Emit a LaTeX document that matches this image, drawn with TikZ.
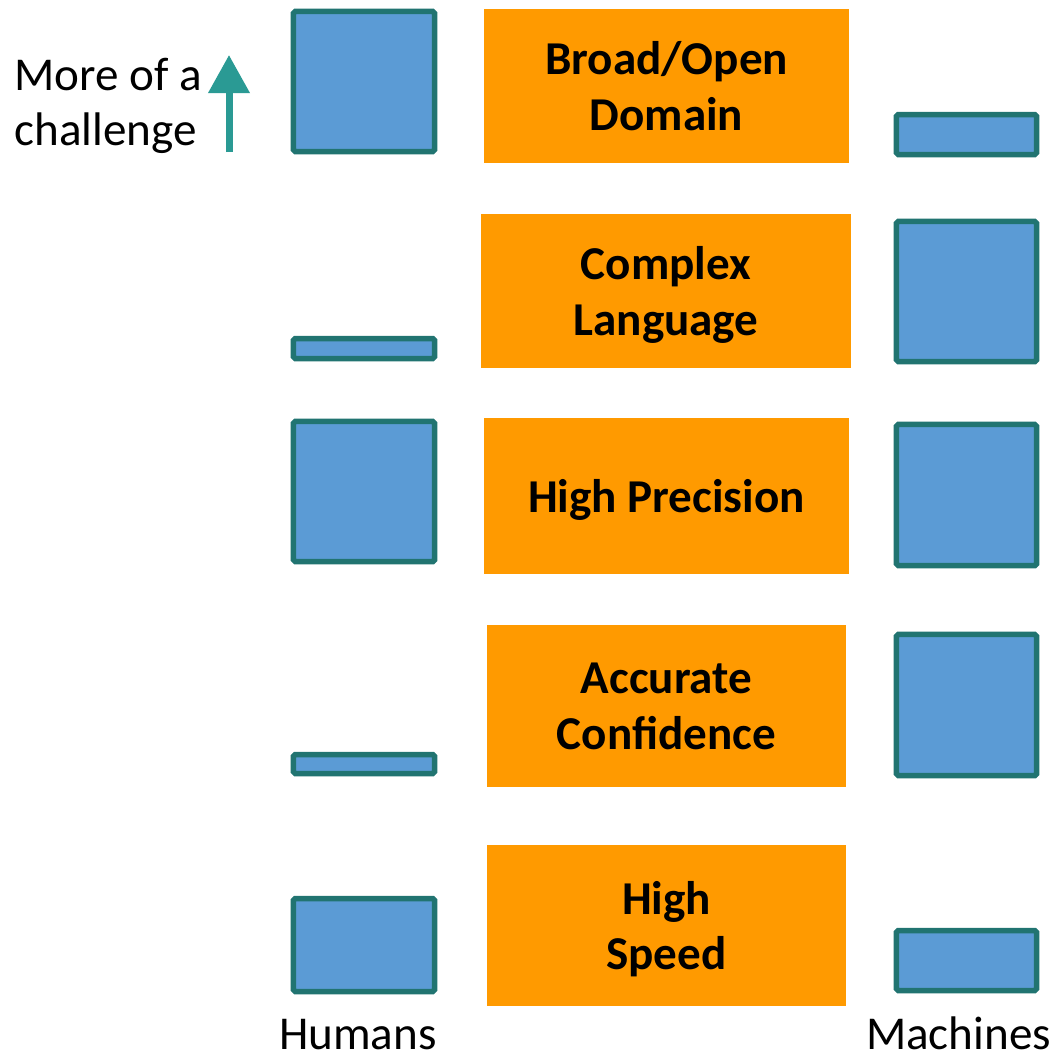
\documentclass[tikz,border=0pt]{standalone}
\usepackage{fontspec}
\setmainfont{Carlito}
\usetikzlibrary{arrows.meta}
\definecolor{barblue}{HTML}{5B9BD5}
\definecolor{bardark}{HTML}{217471}
\definecolor{boxorange}{HTML}{FF9A00}
\definecolor{arrowteal}{HTML}{2A9A94}
\tikzset{
  bar/.style={draw=bardark, fill=barblue, line width=0.055cm, rounded corners=0.5pt, inner sep=0pt},
  topic/.style={fill=boxorange, inner sep=0pt, align=center, text depth=0pt, font=\fontsize{13.4}{15.8}\selectfont\bfseries},
  plain/.style={font=\fontsize{13.4}{15.8}\selectfont, inner sep=0pt}
}
\begin{document}
\begin{tikzpicture}[x=0.01cm, y=-0.01cm]
        \useasboundingbox (0,0) rectangle (1058,1056);
        \def\hX{364}
        \def\mX{966.5}
        \def\oX{666.5}
        % 中间的橙色方框
        \node[topic, minimum width=3.65cm, minimum height=1.54cm] (broad) at (\oX,86) {Broad/Open\\Domain};
        \node[topic, minimum width=3.70cm, minimum height=1.54cm] (complex) at (666,291) {Complex\\Language};
        \node[topic, minimum width=3.65cm, minimum height=1.56cm] (precision) at (\oX,496) {High Precision};
        \node[topic, minimum width=3.59cm, minimum height=1.62cm] (confidence) at (\oX,706) {Accurate\\Confidence};
        \node[topic, minimum width=3.59cm, minimum height=1.61cm] (speed) at (\oX,925.5) {High\\Speed};
        % 左边: 人
        \node[bar, minimum width=1.41cm, minimum height=1.40cm] (hbroad) at (\hX,81.5) {};
        \node[bar, minimum width=1.41cm, minimum height=0.20cm] (hcomplex) at (\hX,348.5) {};
        \node[bar, minimum width=1.41cm, minimum height=1.40cm] (hprecision) at (\hX,491.5) {};
        \node[bar, minimum width=1.41cm, minimum height=0.19cm] (hconfidence) at (\hX,764) {};
        \node[bar, minimum width=1.41cm, minimum height=0.93cm] (hspeed) at (\hX,945) {};
        % 右边: 机器
        \node[bar, minimum width=1.40cm, minimum height=0.40cm] (mbroad) at (\mX,134.5) {};
        \node[bar, minimum width=1.40cm, minimum height=1.40cm] (mcomplex) at (\mX,291.5) {};
        \node[bar, minimum width=1.40cm, minimum height=1.41cm] (mprecision) at (\mX,495) {};
        \node[bar, minimum width=1.40cm, minimum height=1.41cm] (mconfidence) at (\mX,705) {};
        \node[bar, minimum width=1.40cm, minimum height=0.60cm] (mspeed) at (\mX,960.5) {};
        % 标签
        \node[plain, anchor=base] (humans) at (358,1049) {Humans};
        \node[plain, anchor=base] (machines) at (958.5,1049) {Machines};
        \node[plain, anchor=west, align=left] (challenge) at (14,106) {More of a\\challenge};
        % 箭头
        \coordinate (arrowtail) at (229,152);
        \coordinate (arrowtip) at (229,55);
        \draw[arrowteal, line width=0.07cm, -{Triangle[width=0.40cm, length=0.38cm]}] (arrowtail) -- (arrowtip);
\end{tikzpicture}
\end{document}
